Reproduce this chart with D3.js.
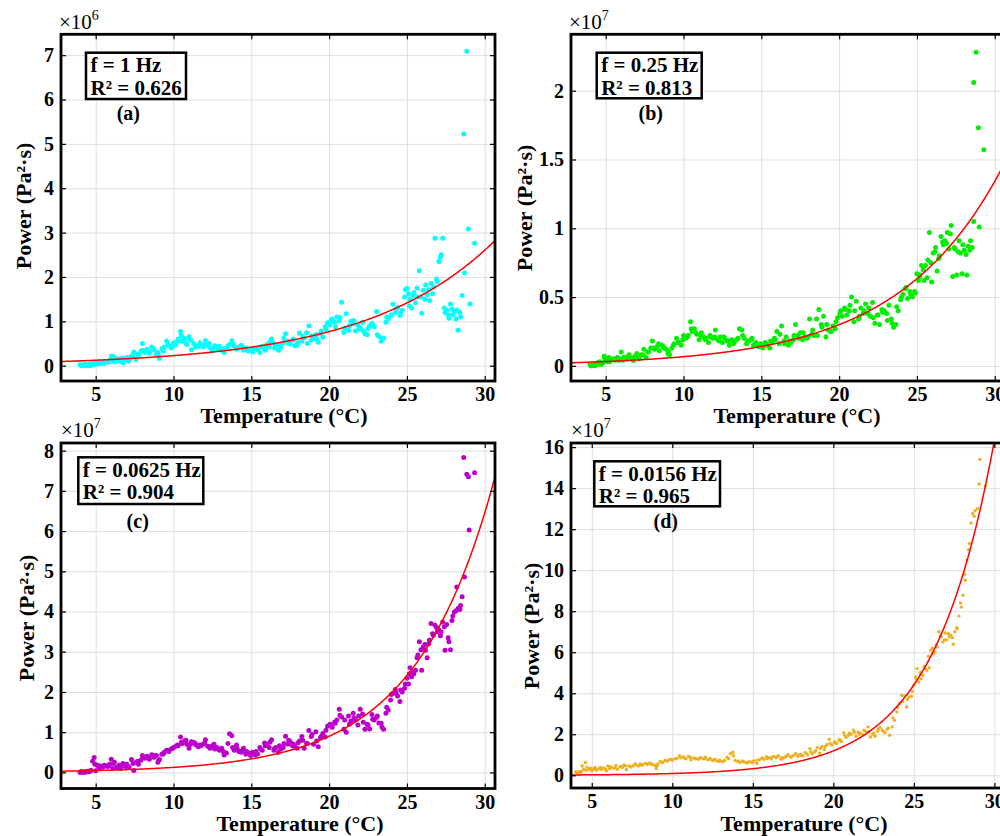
<!DOCTYPE html>
<html>
<head>
<meta charset="utf-8">
<script src="https://cdn.jsdelivr.net/npm/d3@7"></script>
<style>
  body { margin: 0; background: #fff; }
  svg { display: block; font-family: "Liberation Serif", "Times New Roman", serif; font-weight: bold; }
</style>
</head>
<body>
<svg id="fig" width="1000" height="836"></svg>
<script>
// Temperature readings (°C) shared by the four frequency bands, first sweep
const temperature = [
  4.0, 4.1, 4.2, 4.3, 4.4, 4.5, 4.6, 4.7, 4.8, 4.9,
  5.0, 5.1, 5.2, 5.3, 5.45, 5.6, 5.75, 5.9, 6.0, 6.1,
  6.2, 6.35, 6.5, 6.6, 6.75, 6.9, 7.0, 7.15, 7.3, 7.45,
  7.6, 7.75, 7.9, 8.0, 8.15, 8.3, 8.45, 8.6, 8.75, 8.9,
  9.0, 9.1, 9.25, 9.4, 9.55, 9.7, 9.85, 10.0, 10.15, 10.3,
  10.45, 10.55, 10.7, 10.85, 11.0, 11.15, 11.3, 11.45, 11.6, 11.75,
  11.9, 12.05, 12.2, 12.35, 12.5, 12.65, 12.8, 12.95, 13.1, 13.25,
  13.4, 13.6, 13.75, 13.9, 14.05, 14.2, 14.35, 14.5, 14.65, 14.8,
  14.95, 15.1, 15.25, 15.4, 15.55, 15.7, 15.85, 16.0, 16.15, 16.3,
  16.45, 16.6, 16.75, 16.9, 17.05, 17.2, 17.35, 17.5, 17.65, 17.8,
  17.95, 18.1, 18.25, 18.4, 18.55, 18.7, 18.85, 19.0, 19.15, 19.3,
  19.45, 19.6, 19.75, 19.9, 20.05, 20.2, 20.35, 20.5, 20.65, 20.8,
  20.95, 21.1, 21.25, 21.4, 21.55, 21.7, 21.85, 22.0, 22.15, 22.3,
  22.45, 22.6, 22.75, 22.9, 23.05, 23.2, 23.35, 23.5, 23.65, 23.8,
  23.95, 24.1, 24.25, 24.4, 24.55, 24.7, 24.85, 25.0, 25.1, 25.2,
  25.3, 25.45, 25.55, 25.7, 25.8, 25.95, 26.05, 26.2, 26.3, 26.45,
  26.55, 26.7, 26.8, 26.95, 27.05, 27.2, 27.3, 27.45, 27.55, 27.7,
  27.8, 27.95, 28.05, 28.2, 28.3, 28.45, 28.55
];
// second sweep
const temperature2 = [
  4.05, 4.35, 4.65, 4.95, 5.25, 5.55, 5.85, 6.15, 6.45, 6.8,
  7.1, 7.4, 7.7, 8.05, 8.4, 8.7, 9.05, 9.35, 9.65, 9.95,
  10.25, 10.5, 10.8, 11.1, 11.4, 11.7, 12.0, 12.3, 12.6, 12.9,
  13.2, 13.5, 13.8, 14.1, 14.4, 14.7, 15.0, 15.3, 15.6, 15.9,
  16.2, 16.5, 16.8, 17.1, 17.4, 17.7, 18.0, 18.3, 18.6, 18.9,
  19.2, 19.5, 19.8, 20.1, 20.4, 20.7, 21.0, 21.3, 21.6, 21.9,
  22.2, 22.5, 22.8, 23.1, 23.4, 23.7, 24.0, 24.3, 24.6, 24.9,
  25.15, 25.4, 25.65, 25.9, 26.15, 26.4, 26.65, 26.9, 27.15, 27.4,
  27.65, 27.9, 28.15, 28.4
];

// (a) f = 1 Hz, power in units of 1e6 Pa²·s
const powerA = [
  0.02, 0.0, 0.01, 0.03, 0.0, 0.02, 0.04, 0.01, 0.05, 0.03,
  0.06, 0.04, 0.07, 0.05, 0.08, 0.10, 0.07, 0.12, 0.22, 0.18,
  0.09, 0.15, 0.10, 0.17, 0.06, 0.14, 0.19, 0.12, 0.22, 0.31,
  0.14, 0.24, 0.33, 0.50, 0.30, 0.37, 0.28, 0.42, 0.35, 0.25,
  0.30, 0.16, 0.38, 0.42, 0.55, 0.45, 0.40, 0.52, 0.47, 0.60,
  0.77, 0.55, 0.62, 0.48, 0.65, 0.36, 0.50, 0.45, 0.43, 0.48,
  0.42, 0.57, 0.46, 0.40, 0.33, 0.45, 0.38, 0.44, 0.35, 0.30,
  0.40, 0.48, 0.56, 0.44, 0.37, 0.42, 0.46, 0.35, 0.40, 0.33,
  0.38, 0.31, 0.40, 0.36, 0.30, 0.44, 0.39, 0.48, 0.42, 0.60,
  0.50, 0.46, 0.35, 0.42, 0.52, 0.72, 0.55, 0.49, 0.58, 0.45,
  0.47, 0.73, 0.55, 0.63, 0.74, 0.90, 0.58, 0.62, 0.70, 0.53,
  0.72, 0.64, 0.88, 0.97, 0.92, 1.05, 0.98, 1.10, 1.02, 1.43,
  0.75, 1.17, 0.80, 1.00, 0.95, 0.78, 0.92, 0.85, 0.98, 0.72,
  0.70, 0.90, 0.95, 0.88, 1.22, 0.66, 0.55, 0.62, 0.98, 1.05,
  1.12, 1.39, 1.20, 1.32, 1.13, 1.25, 1.55, 1.74, 1.62, 1.50,
  1.30, 1.65, 1.42, 1.55, 2.14, 1.18, 1.70, 1.82, 1.60, 1.47,
  1.85, 1.78, 2.87, 1.90, 2.35, 2.50, 2.87, 1.20, 1.25, 1.07,
  1.39, 1.15, 1.22, 1.25, 0.80, 1.10, 1.58
];
const powerA2 = [
  0.01, 0.02, 0.0, 0.04, 0.06, 0.05, 0.09, 0.20, 0.12, 0.16,
  0.10, 0.20, 0.26, 0.35, 0.32, 0.38, 0.22, 0.33, 0.48, 0.44,
  0.55, 0.68, 0.52, 0.58, 0.42, 0.52, 0.47, 0.50, 0.41, 0.36,
  0.38, 0.45, 0.50, 0.40, 0.44, 0.36, 0.34, 0.38, 0.42, 0.35,
  0.54, 0.40, 0.48, 0.62, 0.50, 0.60, 0.52, 0.66, 0.50, 0.67,
  0.60, 0.78, 0.82, 1.00, 0.88, 1.08, 0.85, 0.90, 1.02, 0.82,
  0.78, 0.84, 0.92, 0.70, 0.60, 1.10, 1.15, 1.28, 1.20, 1.72,
  1.35, 1.58, 1.75, 1.55, 1.50, 1.72, 1.62, 1.95, 2.45, 1.30,
  1.15, 1.28, 1.05, 1.20
];
const tailA = [[28.7, 2.09], [28.65, 5.22], [28.85, 7.09], [28.95, 3.08], [29.05, 1.39], [29.35, 2.76]];

// (b) f = 0.25 Hz, units of 1e7
const powerB = [
  0.01, 0.0, 0.01, 0.0, 0.02, 0.01, 0.03, 0.01, 0.02, 0.07,
  0.05, 0.03, 0.06, 0.04, 0.05, 0.04, 0.06, 0.05, 0.10, 0.04,
  0.06, 0.05, 0.08, 0.06, 0.04, 0.07, 0.09, 0.05, 0.08, 0.12,
  0.06, 0.10, 0.13, 0.18, 0.12, 0.14, 0.11, 0.15, 0.13, 0.12,
  0.09, 0.08, 0.13, 0.16, 0.20, 0.17, 0.15, 0.22, 0.20, 0.22,
  0.32, 0.25, 0.27, 0.23, 0.19, 0.24, 0.21, 0.20, 0.17, 0.21,
  0.20, 0.26, 0.19, 0.21, 0.17, 0.20, 0.18, 0.15, 0.19, 0.17,
  0.19, 0.27, 0.26, 0.20, 0.16, 0.18, 0.19, 0.15, 0.17, 0.14,
  0.16, 0.13, 0.17, 0.15, 0.13, 0.17, 0.20, 0.25, 0.16, 0.29,
  0.18, 0.21, 0.15, 0.17, 0.19, 0.30, 0.22, 0.24, 0.19, 0.21,
  0.20, 0.34, 0.23, 0.22, 0.34, 0.41, 0.30, 0.36, 0.21, 0.26,
  0.25, 0.29, 0.27, 0.35, 0.38, 0.36, 0.42, 0.37, 0.40, 0.50,
  0.32, 0.47, 0.34, 0.42, 0.38, 0.45, 0.38, 0.36, 0.46, 0.31,
  0.37, 0.30, 0.41, 0.40, 0.38, 0.44, 0.34, 0.28, 0.30, 0.40,
  0.48, 0.52, 0.56, 0.49, 0.54, 0.50, 0.54, 0.67, 0.62, 0.65,
  0.73, 0.62, 0.73, 0.77, 0.97, 0.61, 0.82, 0.86, 0.69, 0.80,
  0.94, 0.88, 0.91, 0.97, 0.85, 1.02, 0.65, 0.85, 0.66, 0.91,
  0.82, 0.88, 0.84, 0.66, 0.87, 0.91, 0.86
];
const powerB2 = [
  0.0, 0.01, 0.02, 0.05, 0.03, 0.05, 0.04, 0.06, 0.07, 0.04,
  0.06, 0.08, 0.10, 0.13, 0.16, 0.14, 0.10, 0.15, 0.17, 0.19,
  0.21, 0.27, 0.24, 0.22, 0.19, 0.22, 0.21, 0.18, 0.21, 0.18,
  0.16, 0.20, 0.22, 0.18, 0.20, 0.16, 0.14, 0.16, 0.18, 0.19,
  0.23, 0.16, 0.18, 0.22, 0.20, 0.24, 0.21, 0.26, 0.22, 0.28,
  0.30, 0.25, 0.32, 0.40, 0.41, 0.44, 0.40, 0.36, 0.40, 0.42,
  0.35, 0.37, 0.39, 0.33, 0.31, 0.43, 0.50, 0.57, 0.52, 0.53,
  0.66, 0.70, 0.64, 0.75, 0.83, 0.78, 0.90, 0.89, 0.96, 0.86,
  0.83, 0.67, 0.81, 0.84
];
const tailB = [[28.65, 1.05], [28.65, 2.06], [28.8, 2.28], [28.95, 1.73], [29.0, 1.01], [29.3, 1.57]];

// (c) f = 0.0625 Hz, units of 1e7
const powerC = [
  0.0, 0.01, 0.0, 0.02, 0.01, 0.03, 0.02, 0.05, 0.28, 0.37,
  0.04, 0.18, 0.14, 0.16, 0.13, 0.17, 0.15, 0.20, 0.33, 0.10,
  0.25, 0.12, 0.18, 0.10, 0.22, 0.15, 0.20, 0.12, 0.32, 0.05,
  0.25, 0.20, 0.30, 0.42, 0.35, 0.40, 0.33, 0.44, 0.38, 0.42,
  0.25, 0.32, 0.45, 0.50, 0.55, 0.52, 0.58, 0.62, 0.65, 0.66,
  0.88, 0.72, 0.78, 0.70, 0.60, 0.76, 0.75, 0.68, 0.64, 0.66,
  0.70, 0.81, 0.65, 0.60, 0.66, 0.58, 0.62, 0.55, 0.60, 0.43,
  0.48, 0.96, 0.91, 0.55, 0.68, 0.52, 0.50, 0.60, 0.45, 0.48,
  0.42, 0.50, 0.44, 0.46, 0.62, 0.55, 0.73, 0.70, 0.62, 0.81,
  0.55, 0.62, 0.50, 0.58, 0.62, 0.90, 0.70, 0.76, 0.66, 0.64,
  0.60, 0.78, 0.89, 0.60, 0.72, 1.04, 0.89, 0.70, 1.01, 0.64,
  0.86, 0.97, 0.88, 1.15, 1.20, 1.12, 1.25, 1.30, 1.57, 1.38,
  1.07, 1.00, 1.40, 1.28, 1.47, 1.30, 1.18, 1.57, 1.45, 1.07,
  1.20, 1.08, 1.44, 1.30, 1.37, 1.23, 1.22, 1.07, 1.47, 1.55,
  1.80, 1.96, 2.06, 1.90, 1.76, 2.00, 2.09, 2.34, 2.20, 2.60,
  2.38, 2.45, 2.54, 2.92, 3.25, 2.54, 3.12, 3.04, 2.85, 3.29,
  3.70, 3.41, 3.66, 3.50, 3.55, 3.50, 3.74, 3.04, 3.68, 3.25,
  3.05, 3.89, 3.99, 4.61, 4.08, 4.15, 4.37
];
const powerC2 = [
  0.02, 0.01, 0.04, 0.20, 0.12, 0.18, 0.16, 0.22, 0.14, 0.18,
  0.15, 0.22, 0.28, 0.38, 0.36, 0.42, 0.30, 0.46, 0.54, 0.60,
  0.68, 0.75, 0.80, 0.70, 0.72, 0.68, 0.73, 0.64, 0.70, 0.58,
  0.52, 0.72, 0.62, 0.58, 0.54, 0.52, 0.48, 0.52, 0.58, 0.66,
  0.75, 0.60, 0.66, 0.72, 0.80, 0.70, 0.74, 0.80, 0.72, 0.94,
  0.78, 0.90, 1.05, 1.18, 1.22, 1.42, 1.30, 1.20, 1.35, 1.40,
  1.25, 1.17, 1.32, 1.40, 1.12, 1.62, 1.94, 1.98, 2.05, 2.20,
  2.45, 2.50, 2.85, 3.05, 3.18, 3.20, 3.45, 3.60, 3.40, 3.62,
  3.35, 3.78, 4.02, 4.05
];
const tailC = [[28.65, 7.83], [28.7, 4.86], [28.85, 7.41], [28.95, 7.35], [29.0, 6.03], [29.35, 7.45]];

// (d) f = 0.0156 Hz, units of 1e7
const powerD = [
  0.16, 0.12, 0.18, 0.14, 0.45, 0.30, 0.62, 0.40, 0.28, 0.35,
  0.22, 0.30, 0.38, 0.25, 0.33, 0.28, 0.36, 0.22, 0.45, 0.32,
  0.40, 0.35, 0.48, 0.30, 0.42, 0.38, 0.50, 0.28, 0.45, 0.40,
  0.48, 0.52, 0.45, 0.55, 0.50, 0.58, 0.52, 0.60, 0.55, 0.48,
  0.33, 0.55, 0.68, 0.62, 0.72, 0.70, 0.78, 0.74, 0.80, 0.82,
  0.95, 0.85, 0.90, 0.80, 0.92, 0.75, 0.85, 0.82, 0.78, 0.86,
  0.80, 0.88, 0.76, 0.82, 0.72, 0.78, 0.70, 0.74, 0.66, 0.72,
  0.88, 1.05, 1.12, 0.72, 0.68, 0.62, 0.70, 0.64, 0.60, 0.66,
  0.62, 0.70, 0.58, 0.75, 0.82, 0.78, 0.90, 0.86, 0.80, 0.92,
  0.85, 0.95, 0.78, 0.84, 0.90, 1.00, 0.88, 0.96, 1.05, 0.92,
  1.02, 0.95, 1.10, 1.00, 1.30, 1.05, 1.15, 1.35, 1.08, 1.40,
  1.25, 1.50, 1.76, 1.48, 1.60, 1.55, 1.70, 1.65, 2.08, 1.85,
  1.95, 2.00, 2.20, 1.90, 2.10, 2.05, 1.98, 2.15, 2.36, 1.87,
  2.00, 1.90, 2.15, 2.33, 2.20, 2.08, 2.25, 1.95, 2.36, 2.68,
  3.09, 3.50, 3.90, 3.85, 3.33, 3.82, 3.85, 4.40, 4.80, 5.20,
  4.55, 4.70, 4.88, 5.20, 5.12, 5.24, 6.10, 5.93, 6.00, 6.25,
  7.00, 6.75, 6.50, 6.94, 6.60, 6.75, 6.83, 6.39, 7.00, 7.15,
  7.76, 8.20, 8.78, 9.51, 10.49, 11.30, 12.30
];
const powerD2 = [
  0.15, 0.20, 0.25, 0.32, 0.28, 0.38, 0.30, 0.42, 0.36, 0.44,
  0.46, 0.42, 0.56, 0.50, 0.56, 0.52, 0.45, 0.62, 0.70, 0.76,
  0.82, 0.88, 0.82, 0.88, 0.80, 0.84, 0.80, 0.78, 0.74, 0.68,
  0.70, 0.80, 0.95, 0.70, 0.66, 0.64, 0.68, 0.74, 0.85, 0.82,
  0.88, 0.90, 0.86, 0.95, 0.92, 1.02, 0.98, 1.08, 1.15, 1.20,
  1.30, 1.40, 1.55, 1.62, 1.75, 1.95, 2.05, 2.10, 2.00, 2.20,
  2.12, 2.05, 2.25, 2.15, 2.30, 2.80, 3.30, 3.60, 3.70, 4.10,
  4.70, 5.00, 5.30, 5.80, 6.20, 6.35, 6.80, 6.60, 6.90, 6.70,
  7.20, 8.40, 9.80, 11.00
];
const tailD = [[28.65, 12.76], [28.75, 12.63], [28.8, 12.9], [28.95, 13.0], [29.05, 14.2], [29.1, 15.4], [29.45, 14.1]];

// Exponential fit P = a·exp(b·T), in the same units as each panel
const fitA = [0.067, 0.122];
const fitB = [0.0149, 0.150];
const fitC = [0.0175, 0.197];
const fitD = [0.0063, 0.262];

// Labels
const freqLabels = ["f = 1 Hz", "f = 0.25 Hz", "f = 0.0625 Hz", "f = 0.0156 Hz"];
const r2Labels = ["R² = 0.626", "R² = 0.813", "R² = 0.904", "R² = 0.965"];
const panelTags = ["(a)", "(b)", "(c)", "(d)"];
const exponents = ["6", "7", "7", "7"];
const xTickValues = [5, 10, 15, 20, 25, 30];
const yTicksA = [0, 1, 2, 3, 4, 5, 6, 7];
const yTicksB = [0, 0.5, 1, 1.5, 2];
const yTicksC = [0, 1, 2, 3, 4, 5, 6, 7, 8];
const yTicksD = [0, 2, 4, 6, 8, 10, 12, 14, 16];

// Layout of each subplot
const layouts = [
  { box: [61, 34.3, 495, 381], xDom: [2.77, 30.66], yDom: [-0.345, 7.47], color: "#00FFFF", r: 2.5,
    ann: [86, 52.7, 100, 46.3], tag: [128.3, 120], xTitle: [284, 423], yTitle: [31, 206], mult: [59, 29] },
  { box: [571, 34.3, 1005, 381], xDom: [2.77, 30.66], yDom: [-0.11, 2.41], color: "#00EE00", r: 2.5,
    ann: [596.7, 52.7, 105, 45.6], tag: [650.7, 120], xTitle: [797, 423], yTitle: [532, 208], mult: [569, 29] },
  { box: [61, 443, 495, 788.5], xDom: [2.77, 30.66], yDom: [-0.40, 8.19], color: "#BB00CC", r: 2.5,
    ann: [78.3, 457.3, 125, 46.7], tag: [137.7, 528], xTitle: [300, 830.5], yTitle: [34, 618], mult: [61, 437] },
  { box: [571, 443, 1005, 788], xDom: [3.71, 30.66], yDom: [-0.62, 16.2], color: "#EDB120", r: 1.7,
    ann: [594.3, 461.3, 125.7, 45], tag: [665.7, 528], xTitle: [804, 830.5], yTitle: [539, 626], mult: [571, 437] }
];

const series = [
  { pts: d3.zip(temperature, powerA).concat(d3.zip(temperature2, powerA2), tailA), fit: fitA, yTicks: yTicksA },
  { pts: d3.zip(temperature, powerB).concat(d3.zip(temperature2, powerB2), tailB), fit: fitB, yTicks: yTicksB },
  { pts: d3.zip(temperature, powerC).concat(d3.zip(temperature2, powerC2), tailC), fit: fitC, yTicks: yTicksC },
  { pts: d3.zip(temperature, powerD).concat(d3.zip(temperature2, powerD2), tailD), fit: fitD, yTicks: yTicksD }
];

const svg = d3.select("#fig");
const FONT = '"Liberation Serif", "Times New Roman", serif';

function styleAxis(g, size) {
  g.attr("font-family", FONT).attr("font-size", size).attr("font-weight", "bold");
  g.select(".domain").remove();
  g.selectAll(".tick line").attr("stroke", "#000").attr("stroke-width", 1.2);
  g.selectAll(".tick text").attr("fill", "#000");
}

series.forEach((s, i) => {
  const L = layouts[i];
  const [l, t, r, b] = L.box;
  const x = d3.scaleLinear().domain(L.xDom).range([l, r]);
  const y = d3.scaleLinear().domain(L.yDom).range([b, t]);
  const g = svg.append("g");

  const clipId = "plot-clip-" + i;
  svg.append("clipPath").attr("id", clipId)
    .append("rect").attr("x", l).attr("y", t).attr("width", r - l).attr("height", b - t);

  // grid lines
  const gx = g.append("g").attr("transform", `translate(0,${b})`)
    .call(d3.axisBottom(x).tickValues(xTickValues).tickSize(-(b - t)).tickFormat(""));
  gx.select(".domain").remove();
  gx.selectAll("line").attr("stroke", "#dedede").attr("stroke-width", 1);
  const gy = g.append("g").attr("transform", `translate(${l},0)`)
    .call(d3.axisLeft(y).tickValues(s.yTicks).tickSize(-(r - l)).tickFormat(""));
  gy.select(".domain").remove();
  gy.selectAll("line").attr("stroke", "#dedede").attr("stroke-width", 1);

  // scatter points
  g.append("g").attr("clip-path", `url(#${clipId})`)
    .selectAll("circle").data(s.pts).join("circle")
    .attr("cx", d => x(d[0])).attr("cy", d => y(d[1]))
    .attr("r", L.r).attr("fill", L.color);

  // exponential fit curve
  const [fa, fb] = s.fit;
  const fitPts = d3.range(L.xDom[0], L.xDom[1] + 0.001, 0.05).map(T => [T, fa * Math.exp(fb * T)]);
  g.append("path").attr("clip-path", `url(#${clipId})`)
    .datum(fitPts)
    .attr("d", d3.line().x(d => x(d[0])).y(d => y(d[1])))
    .attr("fill", "none").attr("stroke", "#FF0000").attr("stroke-width", 1.5);

  // axes with inward ticks on all four sides
  const fmt = d3.format("~g");
  const ax = g.append("g").attr("transform", `translate(0,${b})`)
    .call(d3.axisBottom(x).tickValues(xTickValues).tickSize(-5).tickSizeOuter(0).tickPadding(6).tickFormat(fmt));
  styleAxis(ax, 20);
  const at = g.append("g").attr("transform", `translate(0,${t})`)
    .call(d3.axisTop(x).tickValues(xTickValues).tickSize(-5).tickSizeOuter(0).tickFormat(""));
  styleAxis(at, 20);
  const ay = g.append("g").attr("transform", `translate(${l},0)`)
    .call(d3.axisLeft(y).tickValues(s.yTicks).tickSize(-5).tickSizeOuter(0).tickPadding(7).tickFormat(fmt));
  styleAxis(ay, 20);
  const ar = g.append("g").attr("transform", `translate(${r},0)`)
    .call(d3.axisRight(y).tickValues(s.yTicks).tickSize(-5).tickSizeOuter(0).tickFormat(""));
  styleAxis(ar, 20);

  // frame
  g.append("rect").attr("x", l).attr("y", t).attr("width", r - l).attr("height", b - t)
    .attr("fill", "none").attr("stroke", "#000").attr("stroke-width", 2.8);

  // exponent multiplier
  const m = g.append("text").attr("x", L.mult[0]).attr("y", L.mult[1])
    .attr("font-size", 21).attr("font-weight", "normal").attr("fill", "#000");
  m.append("tspan").text("×10");
  m.append("tspan").attr("dy", -9).attr("font-size", 14).text(exponents[i]);

  // axis titles
  g.append("text").attr("x", L.xTitle[0]).attr("y", L.xTitle[1])
    .attr("text-anchor", "middle").attr("font-size", 22).text("Temperature (°C)");
  g.append("text").attr("transform", `translate(${L.yTitle[0]},${L.yTitle[1]}) rotate(-90)`)
    .attr("text-anchor", "middle").attr("font-size", 22).text("Power (Pa²·s)");

  // annotation box
  const [bx, by, bw, bh] = L.ann;
  g.append("rect").attr("x", bx).attr("y", by).attr("width", bw).attr("height", bh)
    .attr("fill", "#fff").attr("stroke", "#000").attr("stroke-width", 2.5);
  g.append("text").attr("x", bx + 4.5).attr("y", by + 19.5).attr("font-size", 21).text(freqLabels[i]);
  g.append("text").attr("x", bx + 4.5).attr("y", by + 41.8).attr("font-size", 21).text(r2Labels[i]);
  g.append("text").attr("x", L.tag[0]).attr("y", L.tag[1]).attr("text-anchor", "middle")
    .attr("font-size", 20).text(panelTags[i]);
});
</script>
</body>
</html>
